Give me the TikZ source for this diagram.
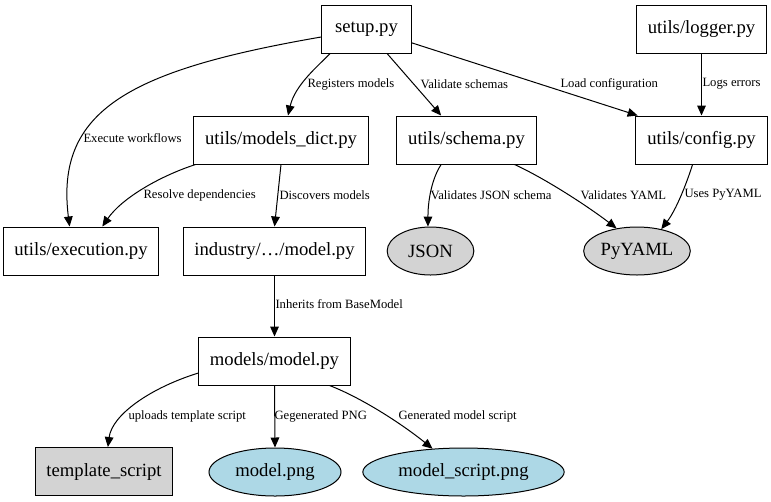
\documentclass[tikz,border=0pt]{standalone}
\usepackage{fontspec}
\setmainfont{Liberation Serif}
\usetikzlibrary{shapes.geometric}
\usetikzlibrary{arrows.meta}
\definecolor{dotgray}{RGB}{211,211,211}
\definecolor{dotblue}{RGB}{173,216,230}

\begin{document}
\begin{tikzpicture}[x=0.75pt, y=-0.75pt, line width=0.75pt,
		box/.style={draw, rectangle, minimum height=36pt, minimum width=67pt, inner xsep=8.5pt, font=\fontsize{14}{16}\selectfont},
		blob/.style={draw, ellipse, minimum height=36pt, inner sep=0pt, font=\fontsize{14}{16}\selectfont},
		lbl/.style={anchor=west, inner sep=0pt, font=\fontsize{9.5}{11}\selectfont},
		arr/.style={-{Triangle[length=7.5pt, width=6.5pt]}}]
		\useasboundingbox (0,0) rectangle (771,501);
		% files
		\node [box] (setup) at (366.5,29) {setup.py};
		\node [box] (logger) at (701.5,29) {utils/logger.py};
		\node [box] (mdict) at (281,140) {utils/models\_dict.py};
		\node [box] (schema) at (466.5,140) {utils/schema.py};
		\node [box] (config) at (701.5,140) {utils/config.py};
		\node [box] (exec) at (81,251) {utils/execution.py};
		\node [box] (industry) at (274.5,251) {industry/\dots/model.py};
		\node [box] (model) at (274.5,361) {models/model.py};
		\node [box, fill=dotgray] (tmpl) at (104,471.5) {template\_script};
		% libraries and outputs
		\node [blob, fill=dotgray, minimum width=65pt] (json) at (430.5,251) {JSON};
		\node [blob, fill=dotgray, minimum width=80pt] (pyyaml) at (637,251) {PyYAML};
		\node [blob, fill=dotblue, minimum width=99pt] (png) at (275,472) {model.png};
		\node [blob, fill=dotblue, minimum width=151pt] (mscript) at (463.5,472) {model\_script.png};
		% edges
		\draw [arr] (setup.190) .. controls (130,70) and (55,110) .. (exec.115);
		\draw [arr] (setup.214) .. controls (318,66) and (295,85) .. (mdict.74);
		\draw [arr] (setup.310) -- (schema.136);
		\draw [arr] (setup.343) -- (config.159);
		\draw [arr] (logger.south) -- (config.north);
		\draw [arr] (mdict.196) .. controls (160,176) and (122,198) .. (exec.49);
		\draw [arr] (mdict.south) -- (industry.north);
		\draw [arr] (schema.224) .. controls (434,175) and (428,195) .. (json.96);
		\draw [arr] (schema.333) .. controls (548,180) and (590,208) .. (pyyaml.132);
		\draw [arr] (config.250) .. controls (686,185) and (676,210) .. (pyyaml.42);
		\draw [arr] (industry.south) -- (model.north);
		\draw [arr] (model.189) .. controls (150,388) and (112,415) .. (tmpl.81);
		\draw [arr] (model.south) -- (png.north);
		\draw [arr] (model.336) .. controls (362,398) and (402,424) .. (mscript.143);
		% edge labels
		\node [lbl] (lexec) at (83,138) {Execute workflows};
		\node [lbl] (lreg) at (307,84) {Registers models};
		\node [lbl] (lval) at (420,84) {Validate schemas};
		\node [lbl] (lload) at (560,84) {Load configuration};
		\node [lbl] (llogs) at (702,84) {Logs errors};
		\node [lbl] (lres) at (143,195) {Resolve dependencies};
		\node [lbl] (ldisc) at (279,195) {Discovers models};
		\node [lbl] (ljson) at (430,195) {Validates JSON schema};
		\node [lbl] (lyaml) at (580,195) {Validates YAML};
		\node [lbl] (luses) at (684,195) {Uses PyYAML};
		\node [lbl] (linh) at (275,304) {Inherits from BaseModel};
		\node [lbl] (lupl) at (128,416) {uploads template script};
		\node [lbl] (lpng) at (274,416) {Gegenerated PNG};
		\node [lbl] (lgen) at (398,416) {Generated model script};
	\end{tikzpicture}
\end{document}
